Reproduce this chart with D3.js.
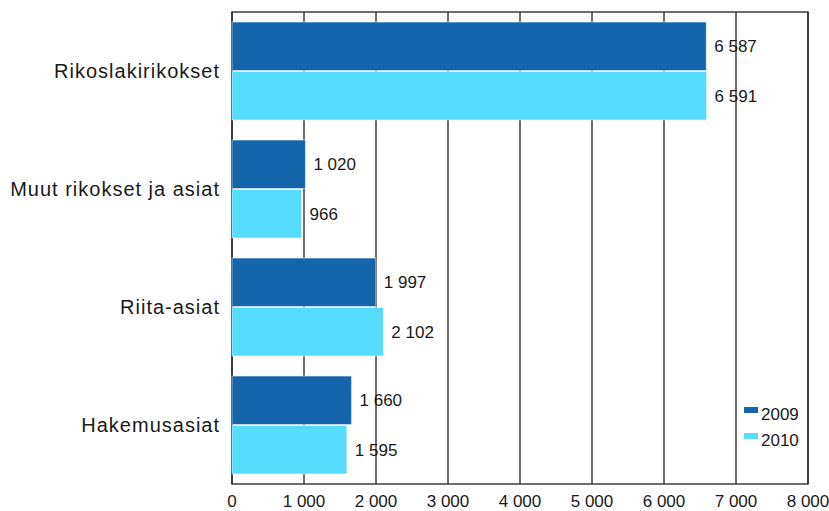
<!DOCTYPE html>
<html>
<head>
<meta charset="utf-8">
<script src="https://cdn.jsdelivr.net/npm/d3@7"></script>
<style>
  body { margin: 0; background: #fff; }
  svg text { font-family: "Liberation Sans", Arial, sans-serif; fill: #1a1a1a; }
</style>
</head>
<body>
<svg id="chart" width="829" height="511"></svg>
<script>
// Chart data
const categories = ['Rikoslakirikokset', 'Muut rikokset ja asiat', 'Riita-asiat', 'Hakemusasiat'];
const seriesNames = ['2009', '2010'];
const values2009 = [6587, 1020, 1997, 1660];
const values2010 = [6591, 966, 2102, 1595];
const tickValues = [0, 1000, 2000, 3000, 4000, 5000, 6000, 7000, 8000];
const colors = ['#1565ad', '#55dcff'];

const fmt = v => d3.format(',')(v).replace(/,/g, ' ');

function init() {
    const svg = d3.select('#chart');
    const left = 232, right = 808, top = 12, bottom = 484;

    const x = d3.scaleLinear().domain([0, 8000]).range([left, right]);
    const y = d3.scaleBand().domain(categories).range([top, bottom])
        .paddingInner(0.17).paddingOuter(0.085);
    const ySub = d3.scaleBand().domain(seriesNames).range([0, y.bandwidth()]).paddingInner(0.02);

    // gridlines
    svg.append('g').selectAll('line')
        .data(tickValues)
        .enter().append('line')
        .attr('x1', d => x(d)).attr('x2', d => x(d))
        .attr('y1', top).attr('y2', bottom)
        .attr('stroke', '#222').attr('stroke-width', 1.3);

    // frame
    svg.append('rect')
        .attr('x', left).attr('y', top)
        .attr('width', right - left).attr('height', bottom - top)
        .attr('fill', 'none').attr('stroke', '#222').attr('stroke-width', 1.3);

    // bars
    const rows = categories.map((c, i) => ({ cat: c, vals: [values2009[i], values2010[i]] }));
    const groups = svg.append('g').selectAll('g')
        .data(rows)
        .enter().append('g')
        .attr('transform', d => `translate(0, ${y(d.cat)})`);

    const bars = groups.selectAll('g')
        .data(d => d.vals.map((v, j) => ({ v: v, s: seriesNames[j], j: j })))
        .enter().append('g');

    bars.append('rect')
        .attr('x', x(0))
        .attr('y', d => ySub(d.s))
        .attr('width', d => x(d.v) - x(0))
        .attr('height', ySub.bandwidth())
        .attr('fill', d => colors[d.j])
        .attr('stroke', 'rgba(255,255,255,0.5)')
        .attr('stroke-width', 1);

    bars.append('text')
        .attr('x', d => x(d.v) + 8)
        .attr('y', d => ySub(d.s) + ySub.bandwidth() / 2)
        .attr('dy', '0.35em')
        .style('font-size', '17px')
        .text(d => fmt(d.v));

    // category labels
    svg.append('g').selectAll('text')
        .data(categories)
        .enter().append('text')
        .attr('x', 220)
        .attr('y', d => y(d) + y.bandwidth() / 2)
        .attr('dy', '0.35em')
        .attr('text-anchor', 'end')
        .style('font-size', '20px')
        .style('letter-spacing', '1px')
        .text(d => d);

    // x tick labels
    svg.append('g').selectAll('text')
        .data(tickValues)
        .enter().append('text')
        .attr('x', d => x(d))
        .attr('y', 507)
        .attr('text-anchor', 'middle')
        .style('font-size', '17px')
        .text(d => fmt(d));

    // legend
    const legend = svg.append('g').selectAll('g')
        .data(seriesNames)
        .enter().append('g')
        .attr('transform', (d, i) => `translate(744, ${407 + i * 26})`);
    legend.append('rect')
        .attr('width', 14).attr('height', 6)
        .attr('fill', (d, i) => colors[i]);
    legend.append('text')
        .attr('x', 17).attr('y', 13)
        .style('font-size', '17px')
        .text(d => d);
}

document.addEventListener('DOMContentLoaded', init);
</script>
</body>
</html>
